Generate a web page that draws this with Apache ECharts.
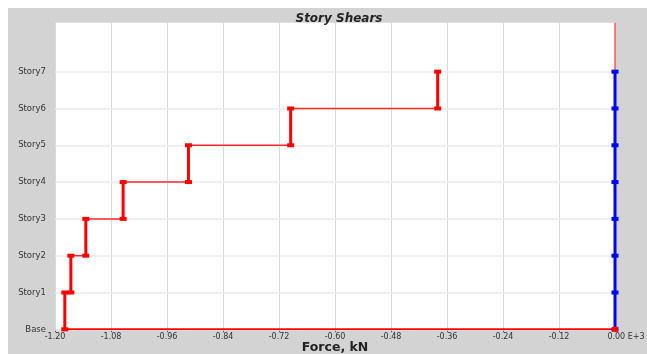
<!DOCTYPE html>
<html>
<head>
<meta charset="utf-8">
<script src="https://cdn.jsdelivr.net/npm/echarts@6/dist/echarts.min.js"></script>
<style>
  html, body { margin: 0; padding: 0; background: #ffffff; }
  #wrap { position: relative; width: 647px; height: 354px; }
  #panel { position: absolute; left: 8px; top: 8px; right: 0; bottom: 0; background: #d3d3d3; }
  #chart { position: absolute; left: 0; top: 0; width: 647px; height: 354px; }
</style>
</head>
<body>
<div id="wrap">
  <div id="panel"></div>
  <div id="chart"></div>
</div>
<script>
// Story levels, bottom to top
const stories = ['Base', 'Story1', 'Story2', 'Story3', 'Story4', 'Story5', 'Story6', 'Story7'];
// Story shear in X for Story1..Story7 (kN x 1E+3)
const shearX = [-1.179, -1.166, -1.134, -1.054, -0.914, -0.695, -0.380];
// Story shear in Y for Story1..Story7
const shearY = [0, 0, 0, 0, 0, 0, 0];
// Force axis tick range
const forceMin = -1.2;
const forceMax = 0;
const forceStep = 0.12;
// Height of the plot above the roof level
const levelTop = 8.33;

const red = '#ff0000';
const redLink = '#ff2a2a';
const blue = '#0000ff';

const series = [];

function seg(data, color, width, marker, markerSize, z) {
  series.push({
    type: 'line',
    data: data,
    z: z,
    silent: true,
    showSymbol: !!marker,
    symbol: marker || 'none',
    symbolSize: markerSize || 0,
    itemStyle: { color: color },
    lineStyle: { color: color, width: width },
    animation: false
  });
}

// horizontal gridlines at each story level
series.push({
  type: 'line', data: [], silent: true, animation: false, z: 1,
  markLine: {
    silent: true, symbol: 'none', animation: false, z: 1,
    label: { show: false },
    lineStyle: { color: '#ebebeb', width: 1.5, type: 'solid' },
    data: stories.map((s, i) => ({ yAxis: i }))
  }
});

// red connectors between stories
for (let k = 0; k < shearX.length - 1; k++) {
  seg([[shearX[k], k + 1], [shearX[k + 1], k + 1]], redLink, 1.5, null, 0, 3);
}
// red along the base to zero
seg([[shearX[0], 0], [forceMax, 0]], red, 2, null, 0, 3);
// red above the roof at zero
seg([[forceMax, shearX.length], [forceMax, levelTop]], 'rgba(255,60,60,0.85)', 1.5, null, 0, 3);

// Y shears (blue) along zero, base to roof
seg([[0, 0]].concat(shearY.map((v, k) => [v, k + 1])), blue, 3, 'rect', [7, 4], 4);

// X shear per story (thick red verticals)
for (let k = 0; k < shearX.length; k++) {
  seg([[shearX[k], k], [shearX[k], k + 1]], red, 3, 'rect', [7, 4], 5);
}
// red marker at base zero
seg([[forceMax, 0]], red, 0, 'rect', [6, 5], 6);

const option = {
  backgroundColor: 'transparent',
  animation: false,
  title: {
    text: 'Story Shears',
    left: 334,
    textAlign: 'center',
    top: 8,
    textStyle: {
      fontFamily: 'DejaVu Sans',
      fontSize: 12,
      fontWeight: 'bold',
      fontStyle: 'italic',
      color: '#222'
    }
  },
  grid: {
    left: 55, right: 32, top: 22.7, bottom: 24.7,
    outerBoundsMode: 'none',
    containLabel: false,
    show: true, backgroundColor: '#ffffff', borderWidth: 0
  },
  xAxis: {
    type: 'value',
    min: forceMin, max: forceMax, interval: forceStep,
    name: 'Force, kN',
    nameLocation: 'middle',
    nameGap: 12,
    nameMoveOverlap: false,
    nameTextStyle: { fontFamily: 'DejaVu Sans', fontSize: 12.5, fontWeight: 'bold', color: '#222' },
    axisLine: { show: false },
    axisTick: { show: true, length: 3, lineStyle: { color: '#555' } },
    axisLabel: {
      margin: 4,
      fontFamily: 'DejaVu Sans', fontSize: 8, color: '#333',
      formatter: v => Math.abs(v) < 1e-9 ? '{z|0.00 E+3}' : v.toFixed(2),
      rich: { z: { fontFamily: 'DejaVu Sans', fontSize: 8, color: '#333', padding: [0, 0, 0, 22] } }
    },
    splitLine: { show: true, lineStyle: { color: '#d9d9d9', width: 1 } }
  },
  yAxis: {
    type: 'value',
    min: 0, max: levelTop, interval: 1,
    axisLine: { show: false },
    axisTick: { show: true, length: 4, lineStyle: { color: '#555' }, customValues: stories.map((s, i) => i) },
    axisLabel: {
      margin: 9,
      fontFamily: 'DejaVu Sans', fontSize: 8.5, color: '#333',
      customValues: stories.map((s, i) => i),
      formatter: v => stories[Math.round(v)] || ''
    },
    splitLine: { show: false }
  },
  series: series
};

const chart = echarts.init(document.getElementById('chart'), null, { renderer: 'canvas' });
chart.setOption(option);
</script>
</body>
</html>
